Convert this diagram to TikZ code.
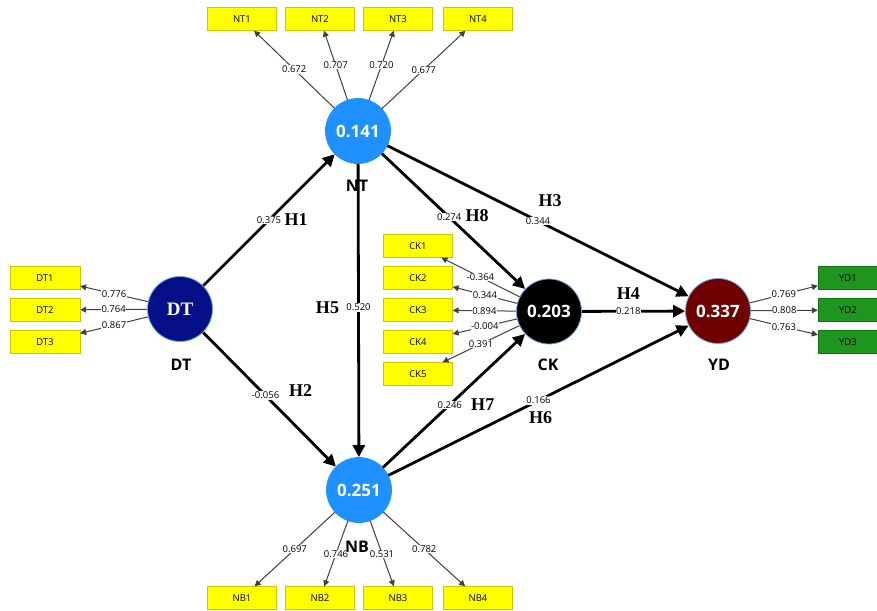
\documentclass[tikz,border=0pt]{standalone}
\usepackage{fontspec}
\setmainfont{Liberation Serif}
\setsansfont{Open Sans}
\usetikzlibrary{arrows.meta}
\definecolor{lvblue}{RGB}{30,144,255}
\definecolor{lvnavy}{RGB}{5,15,135}
\definecolor{lvred}{RGB}{110,0,0}
\definecolor{lvrim}{RGB}{110,170,225}
\definecolor{mvyellow}{RGB}{255,255,0}
\definecolor{mvyrim}{RGB}{205,195,0}
\definecolor{mvgreen}{RGB}{30,150,30}
\definecolor{mvgrim}{RGB}{20,115,20}

\begin{document}
\begin{tikzpicture}[x=1pt,y=-1pt,every node/.style={font=\sffamily},
  lv/.style={circle,minimum size=65pt,inner sep=0pt,draw=lvrim,line width=0.8pt,text=white,font=\sffamily\bfseries\fontsize{17}{17}\selectfont},
  lvname/.style={font=\sffamily\bfseries\fontsize{16}{16}\selectfont},
  mv/.style={draw=mvyrim,fill=mvyellow,minimum width=69pt,minimum height=23pt,inner sep=0pt,font=\sffamily\fontsize{9.5}{9.5}\selectfont},
  mvg/.style={mv,draw=mvgrim,fill=mvgreen,minimum width=60pt},
  load/.style={-{Triangle[length=6pt,width=6pt]},draw=black!75,line width=1pt},
  ld/.style={fill=white,inner sep=0.6pt,font=\sffamily\fontsize{9.5}{9.5}\selectfont},
  rel/.style={-{Triangle[length=12pt,width=12pt]},line width=2.8pt},
  hyp/.style={font=\bfseries\fontsize{18}{18}\selectfont}]
\useasboundingbox (0,0) rectangle (877,610);
% latent variables
\node[lv,fill=lvblue,draw=lvblue] (NT) at (358,131) {0.141};
\node[lv,fill=lvnavy,font=\bfseries\fontsize{19}{19}\selectfont] (DT) at (180,309) {DT};
\node[lv,fill=lvblue,draw=lvblue] (NB) at (359,490) {0.251};
\node[lv,fill=black] (CK) at (549,311.5) {0.203};
\node[lv,fill=lvred] (YD) at (718,311) {0.337};
% indicators
\foreach \m/\x/\v in {1/242/0.672,2/320/0.707,3/398/0.720,4/478/0.677}{
 \node[mv] (NT\m) at (\x,19) {NT\m};
 \draw[load] (NT) -- node[ld] (lNT\m) {\v} (NT\m);}
\foreach \m/\x/\v in {1/242/0.697,2/320/0.746,3/398/0.531,4/478/0.782}{
 \node[mv] (NB\m) at (\x,598) {NB\m};
 \draw[load] (NB) -- node[ld] (lNB\m) {\v} (NB\m);}
\foreach \m/\y/\v in {1/278/0.776,2/310/0.764,3/342/0.867}{
 \node[mv,minimum width=70pt] (DT\m) at (45,\y) {DT\m};
 \draw[load] (DT) -- node[ld] (lDT\m) {\v} (DT\m);}
\foreach \m/\y/\v in {1/246/-0.364,2/278/0.344,3/310/0.894,4/342/-0.004,5/374/0.391}{
 \node[mv] (CK\m) at (418,\y) {CK\m};
 \draw[load] (CK) -- node[ld] (lCK\m) {\v} (CK\m);}
\foreach \m/\y/\v in {1/278/0.769,2/310/0.808,3/342/0.763}{
 \node[mvg] (YD\m) at (848,\y) {YD\m};
 \draw[load] (YD) -- node[ld] (lYD\m) {\v} (YD\m);}
% structural paths
\draw[rel] (DT) -- node[ld,pos=.5] (b1) {0.375} node[hyp,pos=.5,xshift=27pt] (h1) {H1} (NT);
\draw[rel] (DT) -- node[ld,pos=.47] (b2) {-0.056} node[hyp,pos=.47,xshift=35pt,yshift=5pt] (h2) {H2} (NB);
\draw[rel] (NT) -- node[ld,pos=.5] (b3) {0.344} node[hyp,pos=.5,xshift=12pt,yshift=20pt] (h3) {H3} (YD);
\draw[rel] (CK) -- node[ld,pos=.45] (b4) {0.218} node[hyp,pos=.45,yshift=18pt] (h4) {H4} (YD);
\draw[rel] (NT) -- node[ld,pos=.49] (b5) {0.520} node[hyp,pos=.49,xshift=-31pt] (h5) {H5} (NB);
\draw[rel] (NB) -- node[ld,pos=.5] (b6) {0.166} node[hyp,pos=.5,xshift=2pt,yshift=-17pt] (h6) {H6} (YD);
\draw[rel] (NB) -- node[ld,pos=.47] (b7) {0.246} node[hyp,pos=.47,xshift=33pt] (h7) {H7} (CK);
\draw[rel] (NT) -- node[ld,pos=.47] (b8) {0.274} node[hyp,pos=.47,xshift=28pt,yshift=2pt] (h8) {H8} (CK);
% names
\node[lvname] (nNT) at (357,186) {NT};
\node[lvname] (nDT) at (181,365) {DT};
\node[lvname] (nNB) at (357,547) {NB};
\node[lvname] (nCK) at (548,365) {CK};
\node[lvname] (nYD) at (719,365) {YD};
\end{tikzpicture}
\end{document}
